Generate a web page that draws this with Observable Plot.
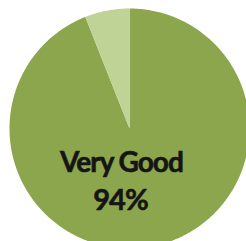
<!DOCTYPE html>
<html><head><meta charset="utf-8">
<script src="https://cdn.jsdelivr.net/npm/d3@7"></script>
<script src="https://cdn.jsdelivr.net/npm/@observablehq/plot@0.6"></script>
<style>html,body{margin:0;padding:0;background:#fff;overflow:hidden}</style>
</head><body><div id="chart"></div>
<script>
const categories = ["Very Good", "Other"];
const values = [94, 6];
const colors = ["#8CA64D", "#BFD396"];
const labelText = ["Very Good", "94%"];

const pie = d3.pie().sort(null).value(d => d.value)(categories.map((c, i) => ({category: c, value: values[i]})));
const pts = [];
pie.forEach(s => {
  const n = Math.max(4, Math.ceil((s.endAngle - s.startAngle) / 0.01));
  pts.push({category: s.data.category, x: 0, y: 0});
  for (let k = 0; k <= n; k++) {
    const a = s.startAngle + (s.endAngle - s.startAngle) * k / n;
    pts.push({category: s.data.category, x: Math.sin(a), y: Math.cos(a)});
  }
  pts.push({category: s.data.category, x: 0, y: 0});
});

const labels = [
  {text: labelText[0], x: -0.067, y: -0.285, size: 28},
  {text: labelText[1], x: -0.075, y: -0.6, size: 29}
];

const chart = Plot.plot({
  width: 246, height: 241,
  margin: 0,
  x: {domain: [-129/120, 117/120], axis: null},
  y: {domain: [-113/120, 128/120], axis: null},
  color: {domain: categories, range: colors},
  marks: [
    Plot.line(pts, {x: "x", y: "y", z: "category", fill: "category", stroke: "none", curve: "linear"}),
    Plot.text(labels, {x: "x", y: "y", text: "text", fontSize: d => d.size, fill: "#151515", stroke: "#151515", strokeWidth: 0.6, fontWeight: "bold", fontFamily: "Lato", textAnchor: "middle"})
  ]
});
chart.querySelectorAll("text").forEach(t => t.style.letterSpacing = "-1px");
document.getElementById("chart").append(chart);
</script></body></html>
